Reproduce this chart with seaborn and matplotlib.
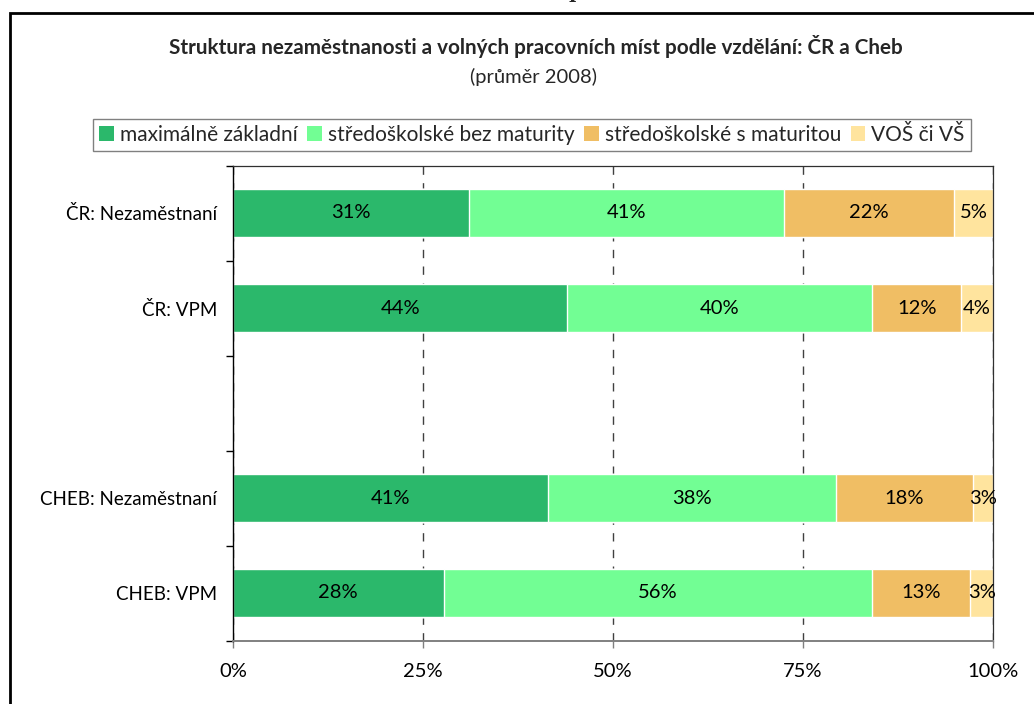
import matplotlib
matplotlib.use("Agg")
import matplotlib.pyplot as plt
from matplotlib.patches import Patch, Rectangle
import pandas as pd
import seaborn as sns
import numpy as np

sns.set_theme(style="white")
plt.rcParams['font.family'] = ['Lato', 'DejaVu Sans']

# ---- data (shares in %) ----
groups = ["ČR: Nezaměstnaní", "ČR: VPM", " ", "CHEB: Nezaměstnaní", "CHEB: VPM"]
rows = ["ČR: Nezaměstnaní", "ČR: VPM", "CHEB: Nezaměstnaní", "CHEB: VPM"]
zakladni = [31.1, 44.0, 41.4, 27.7]
bez_maturity = [41.4, 40.1, 37.9, 56.4]
s_maturitou = [22.4, 11.7, 18.1, 12.9]
vos_vs = [5.1, 4.2, 2.6, 3.0]
legend_names = ["maximálně základní", "středoškolské bez maturity",
                "středoškolské s maturitou", "VOŠ či VŠ"]
colors = ["#2bb86b", "#72fe94", "#f0be64", "#ffe49e"]
xticks = [0, 25, 50, 75, 100]
xtick_labels = ["0%", "25%", "50%", "75%", "100%"]

df = pd.DataFrame({"kat": rows, "s1": zakladni, "s2": bez_maturity,
                   "s3": s_maturitou, "s4": vos_vs})
parts = ["s1", "s2", "s3", "s4"]
cum = df[parts].cumsum(axis=1)

fs = 14.5

fig = plt.figure(figsize=(10.34, 7.04), dpi=100)
ax = fig.add_axes([233/1034, 1-640.5/704, 760/1034, 475/704])

# stacked bars: draw cumulative totals from the longest down
for i in range(3, -1, -1):
    sns.barplot(x=cum[parts[i]], y=df["kat"], order=groups, orient="h",
                color=colors[i], saturation=1, width=0.5, errorbar=None,
                ax=ax, zorder=2)

# labels in the middle of each segment
pos = {g: k for k, g in enumerate(groups)}
for i, p in enumerate(parts):
    left = cum[p] - df[p]
    for j, r in df.iterrows():
        ax.text(left[j] + r[p] / 2, pos[r["kat"]], f"{r[p]:.0f}%",
                ha="center", va="center", fontsize=fs, color="black", zorder=3)

ax.set_xlim(0, 100)
ax.set_ylim(4.5, -0.5)
ax.set_xlabel("")
ax.set_ylabel("")
ax.set_xticks(xticks)
ax.set_xticklabels(xtick_labels, fontsize=fs)
ax.set_yticks(range(len(groups)))
ax.set_yticklabels(groups, fontsize=13.5)
ax.set_yticks(np.arange(-0.5, len(groups)), minor=True)
ax.tick_params(axis="y", which="major", length=0, pad=11.5, colors="black")
ax.tick_params(axis="y", which="minor", left=True, direction="out", length=5, width=1, color="black")
ax.tick_params(axis="x", which="major", bottom=True, direction="out", length=5, width=1,
               color="#808080", pad=11, labelcolor="black")

ax.grid(axis="x", linestyle=(0, (6, 6)), color="#404040", lw=1)
ax.grid(axis="y", visible=False)
ax.set_axisbelow(True)

for s in ["top", "right"]:
    ax.spines[s].set_color("#303030")
    ax.spines[s].set_linewidth(0.9)
ax.spines["left"].set_color("black")
ax.spines["left"].set_linewidth(1)
ax.spines["bottom"].set_color("#808080")
ax.spines["bottom"].set_linewidth(1.4)

# titles
fig.text(535.5/1034, 1-47/704,
         "Struktura nezaměstnanosti a volných pracovních míst podle vzdělání: ČR a Cheb",
         ha="center", va="center", fontsize=14.9, fontweight="bold")
fig.text(533/1034, 1-77/704, "(průměr 2008)", ha="center", va="center", fontsize=fs)

handles = [Patch(facecolor=c, edgecolor="none") for c in colors]
leg = fig.legend(handles, legend_names, loc="center", bbox_to_anchor=(532/1034, 1-135/704),
                 ncol=4, fontsize=15, frameon=True, fancybox=False, framealpha=1,
                 edgecolor="#808080", handlelength=0.7, handleheight=0.7,
                 handletextpad=0.3, columnspacing=0.45, borderpad=0.3, borderaxespad=0)
leg.get_frame().set_linewidth(1)

# outer chart frame (continues past the right and bottom edge)
fig.add_artist(Rectangle((10/1034, -0.1), 1.2, 1.1 - 13/704, transform=fig.transFigure,
                         fill=False, edgecolor="black", lw=2, clip_on=False))
# cut-off letter of the page heading above the frame
fig.text(575/1034, 1 + 2/704, "p", family="DejaVu Serif", fontweight="bold",
         fontsize=14, ha="center", va="baseline")

fig.savefig("out.png", dpi=100)
